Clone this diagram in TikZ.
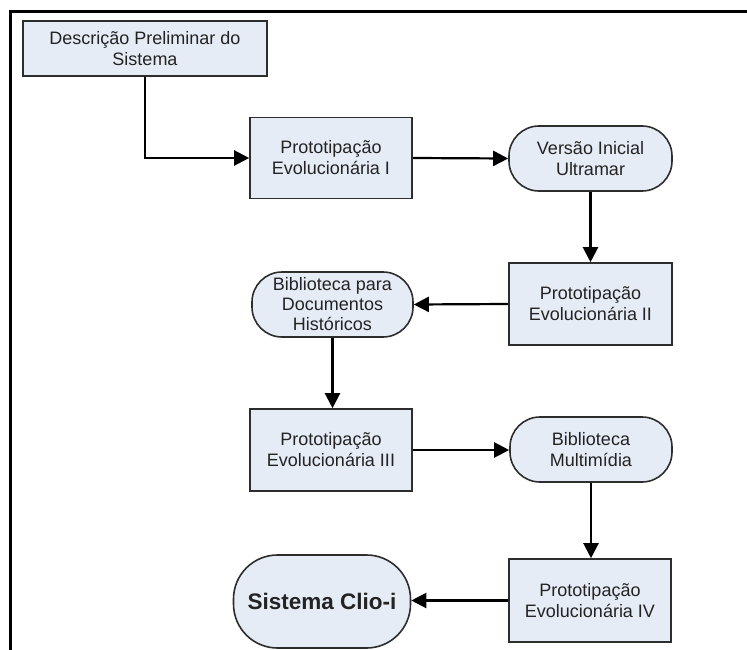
\documentclass[tikz,border=0pt]{standalone}
\usepackage{fontspec}
\setmainfont{Liberation Sans}
\usetikzlibrary{arrows.meta}
\definecolor{boxfill}{RGB}{230,236,246}
\definecolor{boxline}{RGB}{45,45,45}
\definecolor{txt}{RGB}{35,35,35}
\begin{document}
\begin{tikzpicture}[x=1pt,y=-1pt,
  base/.style={draw=boxline,line width=1.6pt,fill=boxfill,align=center,
    text=txt,font=\fontsize{18}{21}\selectfont,inner sep=0pt},
  stepbox/.style={base,rectangle},
  stadium/.style={base,rectangle,rounded corners=30pt},
  flow/.style={line width=2.2pt,-{Triangle[length=15pt,width=15pt]}}]
  \useasboundingbox (0,0) rectangle (747,650);
  % page frame (top and left edges)
  \draw[line width=3pt] (10,650) -- (10,12) -- (747,12);

  \node[stepbox,minimum width=244pt,minimum height=55pt] (desc) at (145,48.5)
    {Descrição Preliminar do\\Sistema};
  \node[stepbox,minimum width=162pt,minimum height=81pt] (p1) at (331,158)
    {Prototipação\\Evolucionária I};
  \node[stadium,minimum width=163pt,minimum height=65pt] (v) at (590.5,158.5)
    {Versão Inicial\\Ultramar};
  \node[stepbox,minimum width=163pt,minimum height=82pt] (p2) at (590.5,304)
    {Prototipação\\Evolucionária II};
  \node[stadium,minimum width=161pt,minimum height=65pt,
    font=\fontsize{18}{20}\selectfont] (bd) at (332.5,304.5)
    {Biblioteca para\\Documentos\\Históricos};
  \node[stepbox,minimum width=162pt,minimum height=82pt] (p3) at (331,450)
    {Prototipação\\Evolucionária III};
  \node[stadium,minimum width=162pt,minimum height=65pt] (bm) at (591,449.5)
    {Biblioteca\\Multimídia};
  \node[stepbox,minimum width=162pt,minimum height=83pt] (p4) at (590,600.5)
    {Prototipação\\Evolucionária IV};
  \node[base,rectangle,rounded corners=44pt,minimum width=177pt,minimum height=93pt,
    font=\fontsize{22.5}{26}\selectfont\bfseries] (clio) at (322,601.5)
    {Sistema Clio-i};

  \draw[flow] (desc.south) |- (p1.west);
  \draw[flow] (p1.east) -- (v.west);
  \draw[flow] (v.south) -- (p2.north);
  \draw[flow] (p2.west) -- (bd.east);
  \draw[flow] (bd.south) -- (bd.south |- p3.north);
  \draw[flow] (p3.east) -- (p3.east -| bm.west);
  \draw[flow] (bm.south) -- (bm.south |- p4.north);
  \draw[flow] (p4.west) -- (p4.west -| clio.east);
\end{tikzpicture}
\end{document}
